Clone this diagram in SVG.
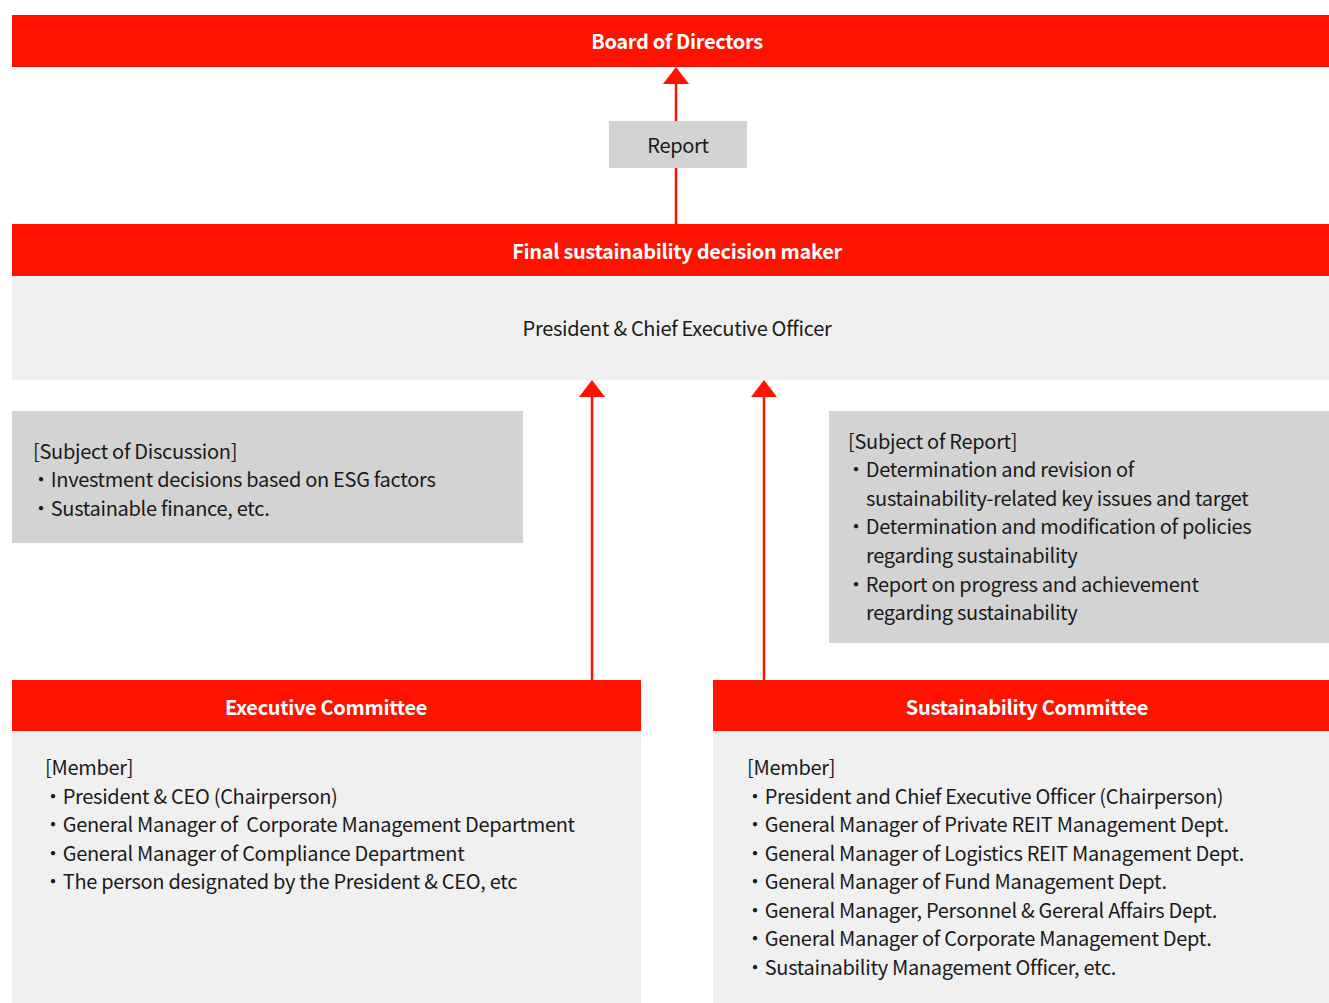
<svg xmlns="http://www.w3.org/2000/svg" width="1329" height="1003" viewBox="0 0 1329 1003">
  <defs>
    <style>
      .bar { fill: #ff1200; }
      .body { fill: #f0f0f0; }
      .note { fill: #d3d3d3; }
      .hdr { font-family: "Noto Sans CJK KR", "Noto Sans", sans-serif; font-size: 20px; font-weight: 700; letter-spacing: -0.34px; fill: #ffffff; text-anchor: middle; }
      .txt { font-family: "Noto Sans CJK KR", "Noto Sans", sans-serif; font-size: 20px; letter-spacing: -0.3px; fill: #1a1a1a; white-space: pre; }
      .mid { text-anchor: middle; }
      .link { stroke: #ff1200; stroke-width: 2.5; fill: none; }
      .head { fill: #ff1200; }
    </style>
  </defs>
  <rect width="1329" height="1003" fill="#ffffff"/>

  <g id="board">
    <rect class="bar" x="12" y="15" width="1317" height="52"/>
    <text class="hdr" x="677" y="49">Board of Directors</text>
  </g>

  <g id="connectors">
    <line class="link" x1="676" y1="224" x2="676" y2="80"/>
    <polygon class="head" points="676,67 663,84 689,84"/>
    <line class="link" x1="592" y1="680" x2="592" y2="394"/>
    <polygon class="head" points="592,380 579,397 605,397"/>
    <line class="link" x1="764" y1="680" x2="764" y2="394"/>
    <polygon class="head" points="764,380 751,397 777,397"/>
  </g>

  <g id="report">
    <rect class="note" x="609" y="121" width="138" height="47"/>
    <text class="txt mid" x="678" y="153">Report</text>
  </g>

  <g id="decision-maker">
    <rect class="bar" x="12" y="224" width="1317" height="52"/>
    <text class="hdr" x="677" y="259">Final sustainability decision maker</text>
    <rect class="body" x="12" y="276" width="1317" height="104"/>
    <text class="txt mid" x="677" y="336">President &amp; Chief Executive Officer</text>
  </g>

  <g id="discussion">
    <rect class="note" x="12" y="411" width="511" height="132"/>
    <text class="txt" x="33" y="459">[Subject of Discussion]</text>
    <text class="txt" x="31" y="487">・Investment decisions based on ESG factors</text>
    <text class="txt" x="31" y="516">・Sustainable finance, etc.</text>
  </g>

  <g id="report-subjects">
    <rect class="note" x="829" y="411" width="500" height="232"/>
    <text class="txt" x="848" y="449">[Subject of Report]</text>
    <text class="txt" x="846" y="477">・Determination and revision of</text>
    <text class="txt" x="866" y="506">sustainability-related key issues and target</text>
    <text class="txt" x="846" y="534">・Determination and modification of policies</text>
    <text class="txt" x="866" y="563">regarding sustainability</text>
    <text class="txt" x="846" y="592">・Report on progress and achievement</text>
    <text class="txt" x="866" y="620">regarding sustainability</text>
  </g>

  <g id="executive-committee">
    <rect class="bar" x="12" y="680" width="629" height="51"/>
    <text class="hdr" x="326" y="715">Executive Committee</text>
    <rect class="body" x="12" y="731" width="629" height="272"/>
    <text class="txt" x="45" y="775">[Member]</text>
    <text class="txt" x="43" y="804">・President &amp; CEO (Chairperson)</text>
    <text class="txt" x="43" y="832">・General Manager of  Corporate Management Department</text>
    <text class="txt" x="43" y="861">・General Manager of Compliance Department</text>
    <text class="txt" x="43" y="889">・The person designated by the President &amp; CEO, etc</text>
  </g>

  <g id="sustainability-committee">
    <rect class="bar" x="713" y="680" width="616" height="51"/>
    <text class="hdr" x="1027" y="715">Sustainability Committee</text>
    <rect class="body" x="713" y="731" width="616" height="272"/>
    <text class="txt" x="747" y="775">[Member]</text>
    <text class="txt" x="745" y="804">・President and Chief Executive Officer (Chairperson)</text>
    <text class="txt" x="745" y="832">・General Manager of Private REIT Management Dept.</text>
    <text class="txt" x="745" y="861">・General Manager of Logistics REIT Management Dept.</text>
    <text class="txt" x="745" y="889">・General Manager of Fund Management Dept.</text>
    <text class="txt" x="745" y="918">・General Manager, Personnel &amp; Gereral Affairs Dept.</text>
    <text class="txt" x="745" y="946">・General Manager of Corporate Management Dept.</text>
    <text class="txt" x="745" y="975">・Sustainability Management Officer, etc.</text>
  </g>
</svg>
